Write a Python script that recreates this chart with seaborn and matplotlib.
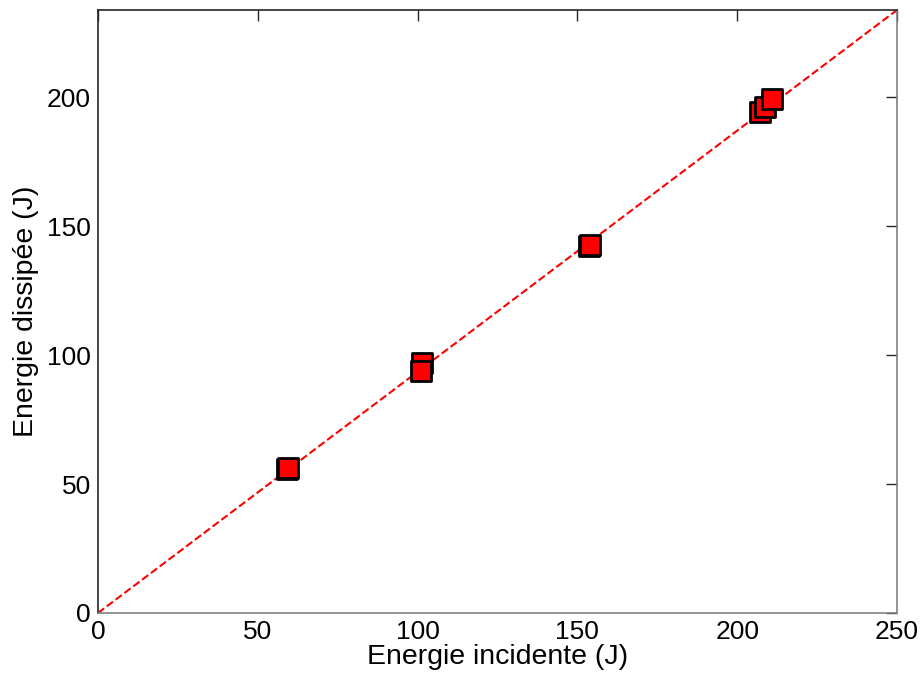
import numpy as np
import pandas as pd
import matplotlib
matplotlib.use("Agg")
import matplotlib.pyplot as plt
import seaborn as sns

# Data
energie_incidente = [59.2, 59.5, 101.3, 101.2, 153.5, 153.8, 207.0, 208.6, 210.9]
energie_dissipee = [55.9, 56.4, 96.8, 94.0, 142.3, 142.6, 194.4, 196.2, 199.4]
fit_x = [0, 250]
fit_slope = 0.935
x_ticks = [0, 50, 100, 150, 200, 250]
y_ticks = [0, 50, 100, 150, 200]

sns.set_style("white")
plt.rcParams['font.family'] = ['Liberation Sans', 'DejaVu Sans']

fig = plt.figure(figsize=(9.23, 6.82), dpi=100)
ax = fig.add_axes([98/923, 1 - 613/682, (897-98)/923, (613-10)/682])

fit_df = pd.DataFrame({"x": fit_x, "y": [fit_slope * v for v in fit_x]})
sns.lineplot(data=fit_df, x="x", y="y", ax=ax, color="red", linestyle="--",
             linewidth=1.5, zorder=2)
pts = pd.DataFrame({"x": energie_incidente, "y": energie_dissipee})
sns.scatterplot(data=pts, x="x", y="y", ax=ax, marker="s", s=210,
                color="red", edgecolor="black", linewidth=2, zorder=3)

ax.set_xlim(0, 250)
ax.set_ylim(0, fit_slope * 250)
ax.set_xticks(x_ticks)
ax.set_yticks(y_ticks)
ax.tick_params(direction="in", length=8, width=1, labelsize=19, top=True, right=True,
               colors="#262626", labelcolor="black", pad=5)
ax.set_xlabel("Energie incidente (J)", fontsize=20.5, labelpad=0, color="black")
ax.set_ylabel("Energie dissipée (J)", fontsize=20.5, labelpad=6, color="black")
for side in ["left", "top"]:
    ax.spines[side].set_color("#262626")
for side in ["bottom", "right"]:
    ax.spines[side].set_color("#808080")
for s in ax.spines.values():
    s.set_linewidth(1.2)

fig.savefig("out.png", dpi=100)
